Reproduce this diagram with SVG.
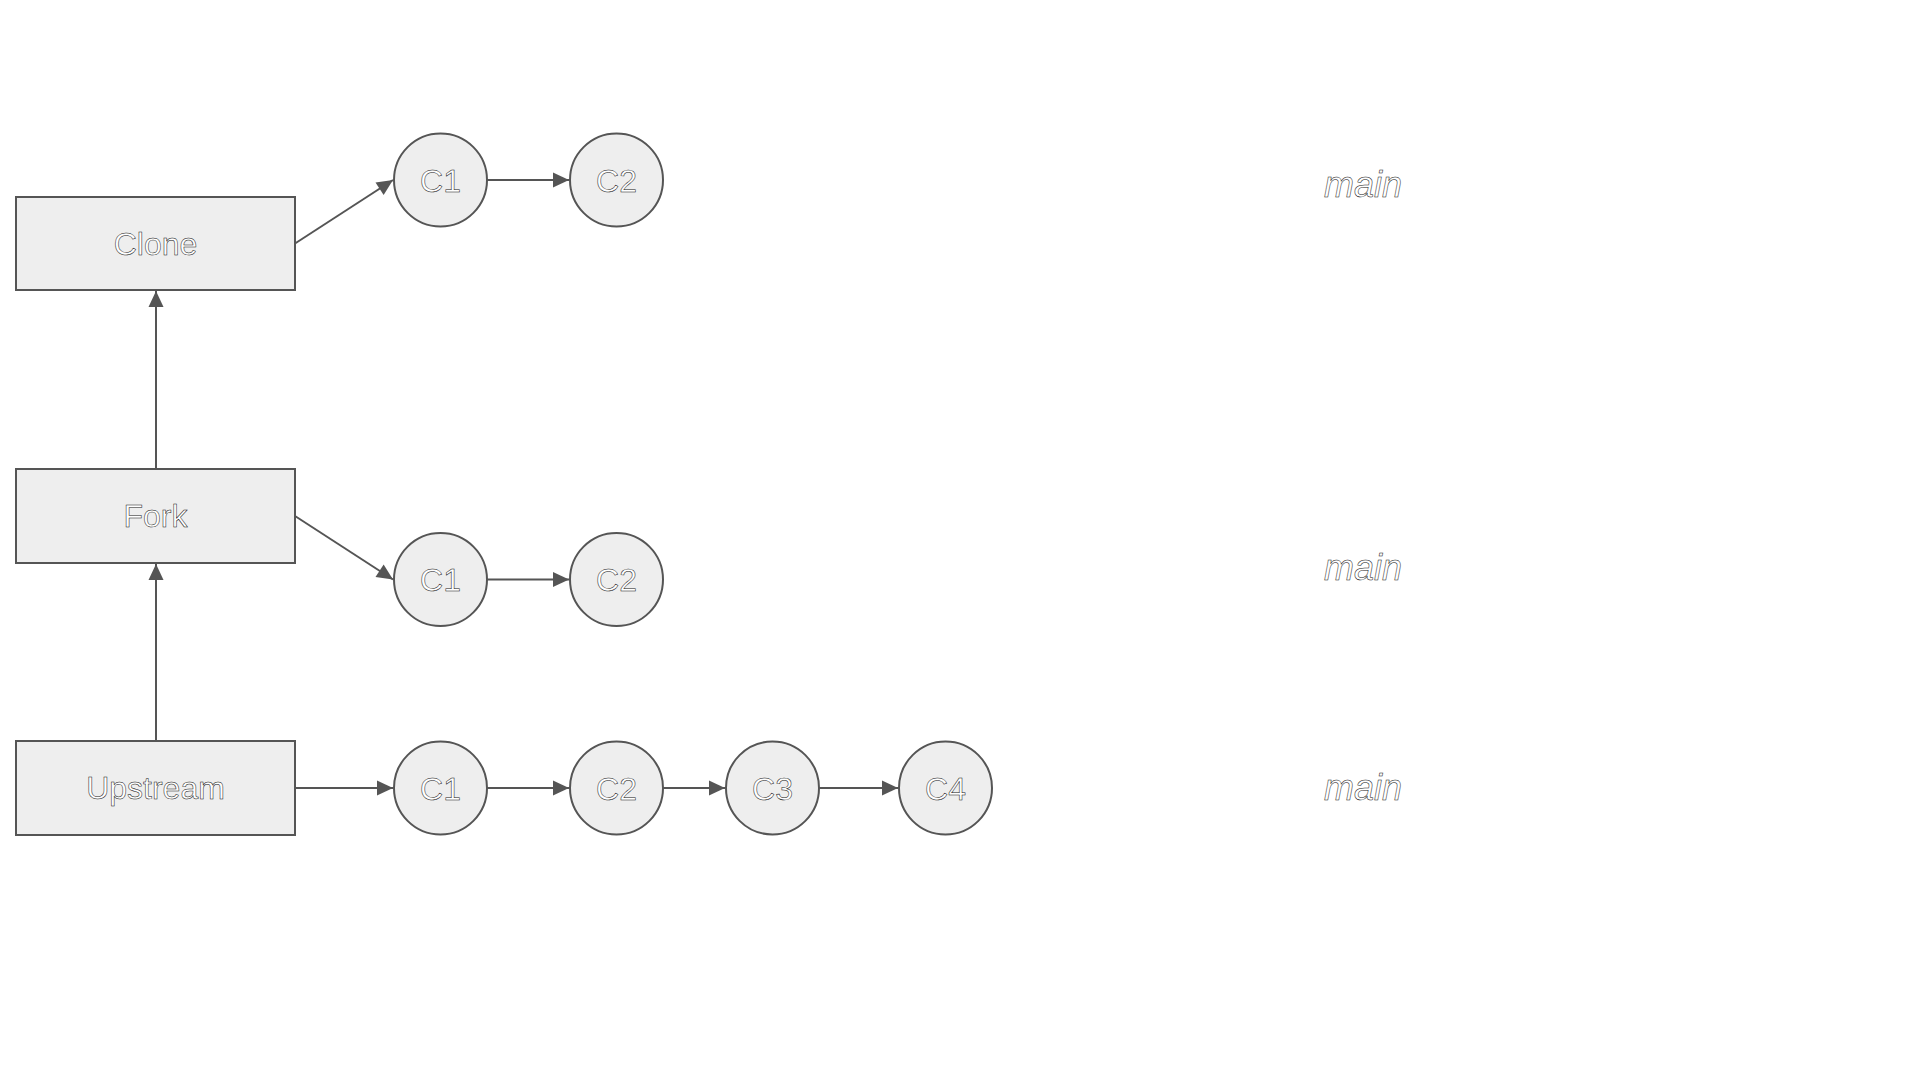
<svg xmlns="http://www.w3.org/2000/svg" width="1920" height="1080" viewBox="0 0 1920 1080">
<style>
.box{fill:#eeeeee;stroke:#555555;stroke-width:2}
.lbl{font-family:"Liberation Sans",Arial,sans-serif;font-size:32px;fill:#ffffff;stroke:#111111;stroke-width:0.5;text-anchor:middle}
.br{font-family:"Liberation Sans",Arial,sans-serif;font-size:36px;font-style:italic;fill:#ffffff;stroke:#111111;stroke-width:0.5;text-anchor:middle}
.edge{stroke:#555555;stroke-width:2;fill:none;marker-end:url(#arr)}
</style>
<defs>
<marker id="arr" markerUnits="userSpaceOnUse" markerWidth="18" markerHeight="18" viewBox="0 0 18 18" refX="17" refY="9" orient="auto">
<path d="M1,1.5 L17,9 L1,16.5 Z" fill="#555555"/>
</marker>
</defs>
<rect width="1920" height="1080" fill="#ffffff"/>
<g id="connectors">
<line class="edge" x1="156" y1="469" x2="156" y2="291"/>
<line class="edge" x1="156" y1="741" x2="156" y2="564"/>
<line class="edge" x1="295" y1="243.5" x2="393" y2="180"/>
<line class="edge" x1="487" y1="180" x2="569" y2="180"/>
<line class="edge" x1="295" y1="516" x2="393" y2="579.5"/>
<line class="edge" x1="487" y1="579.5" x2="569" y2="579.5"/>
<line class="edge" x1="295" y1="788" x2="393" y2="788"/>
<line class="edge" x1="487" y1="788" x2="569" y2="788"/>
<line class="edge" x1="663" y1="788" x2="725" y2="788"/>
<line class="edge" x1="819" y1="788" x2="898" y2="788"/>
</g>
<g id="clone"><rect class="box" x="16" y="197" width="279" height="93"/><text class="lbl" x="155.5" y="255">Clone</text></g>
<g id="fork"><rect class="box" x="16" y="469" width="279" height="94"/><text class="lbl" x="155.5" y="527">Fork</text></g>
<g id="upstream"><rect class="box" x="16" y="741" width="279" height="94"/><text class="lbl" x="155.5" y="799">Upstream</text></g>
<g id="clone-c1"><circle class="box" cx="440.5" cy="180" r="46.5"/><text class="lbl" x="440.5" y="192">C1</text></g>
<g id="clone-c2"><circle class="box" cx="616.5" cy="180" r="46.5"/><text class="lbl" x="616.5" y="192">C2</text></g>
<g id="fork-c1"><circle class="box" cx="440.5" cy="579.5" r="46.5"/><text class="lbl" x="440.5" y="591">C1</text></g>
<g id="fork-c2"><circle class="box" cx="616.5" cy="579.5" r="46.5"/><text class="lbl" x="616.5" y="591">C2</text></g>
<g id="up-c1"><circle class="box" cx="440.5" cy="788" r="46.5"/><text class="lbl" x="440.5" y="800">C1</text></g>
<g id="up-c2"><circle class="box" cx="616.5" cy="788" r="46.5"/><text class="lbl" x="616.5" y="800">C2</text></g>
<g id="up-c3"><circle class="box" cx="772.5" cy="788" r="46.5"/><text class="lbl" x="772.5" y="800">C3</text></g>
<g id="up-c4"><circle class="box" cx="945.5" cy="788" r="46.5"/><text class="lbl" x="945.5" y="800">C4</text></g>
<g id="branch-clone"><text class="br" x="1363" y="197">main</text></g>
<g id="branch-fork"><text class="br" x="1363" y="580">main</text></g>
<g id="branch-upstream"><text class="br" x="1363" y="800">main</text></g>
</svg>
